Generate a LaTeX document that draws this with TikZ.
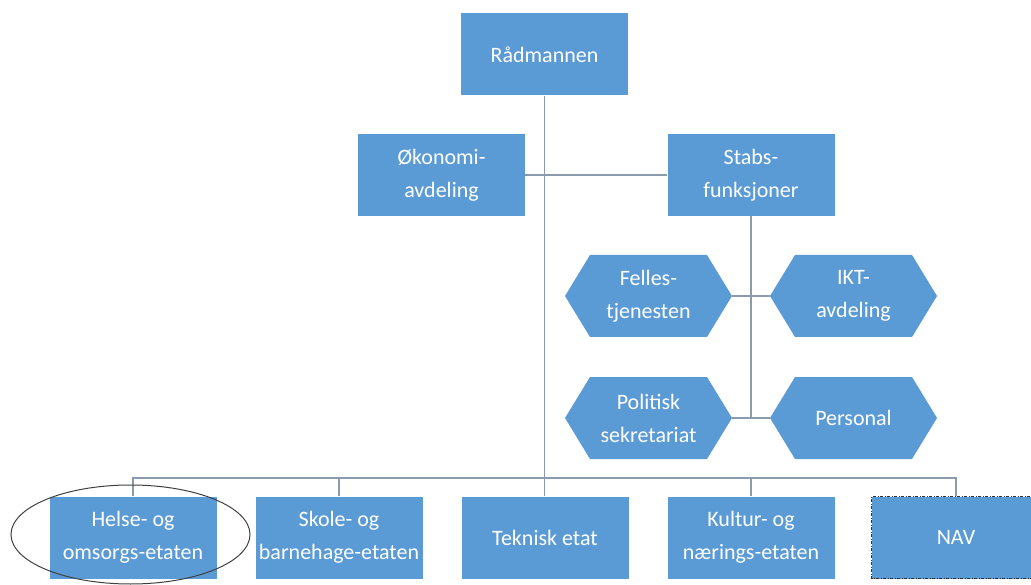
\documentclass[tikz,border=0pt]{standalone}
\usepackage{fontspec}
\usetikzlibrary{shapes.geometric}
\setmainfont{Carlito}
\definecolor{boxblue}{RGB}{91,155,213}
\definecolor{linegray}{RGB}{140,155,172}
\begin{document}
\begin{tikzpicture}[x=1pt,y=-1pt,
  box/.style={fill=boxblue, draw=none, minimum width=167pt, minimum height=82pt, inner sep=0pt,
    text=white, align=center, font=\fontsize{22}{33}\selectfont},
  hextext/.style={draw=none, inner sep=0pt, text=white, align=center, font=\fontsize{22}{33}\selectfont},
  conn/.style={draw=linegray, line width=1.2pt},
  navborder/.style={draw=black!80, line width=1.3pt, dash pattern=on 3pt off 1.5pt on 1pt off 1.5pt}]
\useasboundingbox (0,0) rectangle (1031,585);
\fill[white] (0,0) rectangle (1031,585);

% hexagons (fills)
\foreach \cx/\cy in {648.5/296, 853.5/296, 648.5/418, 853.5/418}{
  \fill[boxblue] (\cx-83.5,\cy) -- (\cx-58.5,\cy-41) -- (\cx+58.5,\cy-41) -- (\cx+83.5,\cy)
     -- (\cx+58.5,\cy+41) -- (\cx-58.5,\cy+41) -- cycle;
}

% nodes
\node[box] (rad) at (544.5,54.5) {Rådmannen};
\node[box] (okon) at (441.5,175) {Økonomi-\\avdeling};
\node[box] (stabs) at (751,175) {Stabs-\\funksjoner};

\node[hextext, minimum width=167pt, minimum height=82pt] (felles) at (648.5,296) {Felles-\\tjenesten};
\node[hextext, minimum width=167pt, minimum height=82pt] (ikt) at (853.5,296) {IKT-\\avdeling};
\node[hextext, minimum width=167pt, minimum height=82pt] (pol) at (648.5,418) {Politisk\\sekretariat};
\node[hextext, minimum width=167pt, minimum height=82pt] (pers) at (853.5,418) {Personal};

\node[box] (helse) at (133,537.5) {Helse- og\\omsorgs-etaten};
\node[box] (skole) at (339,537.5) {Skole- og\\barnehage-etaten};
\node[box] (tek) at (545,537.5) {Teknisk etat};
\node[box] (kultur) at (751,537.5) {Kultur- og\\nærings-etaten};
\node[box, minimum width=168pt] (nav) at (956,537.5) {NAV};
\draw[navborder] (nav.south east) -- (nav.south west) -- (nav.north west) -- (nav.north east);

\coordinate (busy) at (0,478);

% connectors
\draw[conn] (rad.south) -- (rad.south |- tek.north);
\draw[conn] (okon.east) -- (stabs.west);
\draw[conn] (stabs.south) -- (stabs.south |- pers.west);
\draw[conn] (felles.east) -- (ikt.west);
\draw[conn] (pol.east) -- (pers.west);
\draw[conn] (helse.north) -- (helse.north |- busy) -- (nav.north |- busy) -- (nav.north);
\draw[conn] (skole.north) -- (skole.north |- busy);
\draw[conn] (kultur.north) -- (kultur.north |- busy);

% highlight ellipse
\node[draw=black!75, line width=1pt, ellipse, minimum width=239pt, minimum height=99pt, inner sep=0pt] (mark) at (130.5,534.5) {};
\end{tikzpicture}
\end{document}
